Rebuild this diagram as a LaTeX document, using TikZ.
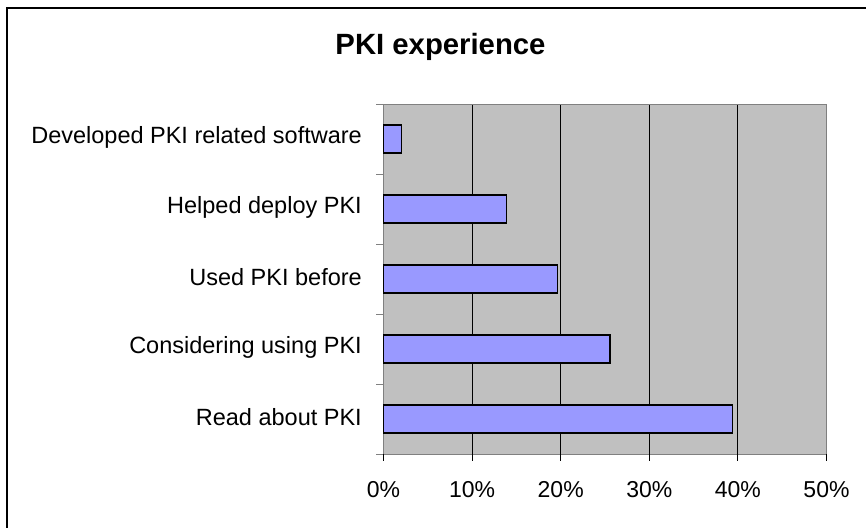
\documentclass[tikz,border=0pt]{standalone}
\usepackage{fontspec}
\setmainfont{Liberation Sans}
\usepackage{tikz}

\definecolor{plotgray}{HTML}{C0C0C0}
\definecolor{barblue}{HTML}{9999FF}
\definecolor{axisgray}{HTML}{808080}

\tikzset{
	catlabel/.style={anchor=east, inner sep=0pt, font=\fontsize{23.5}{25}\selectfont},
	ticklabel/.style={anchor=base, inner sep=0pt, font=\fontsize{23}{25}\selectfont},
	bar/.style={draw=black, line width=1.3pt, fill=barblue},
}

\begin{document}
\begin{tikzpicture}[x=1pt, y=-1pt]
	
	\useasboundingbox (0,0) rectangle (866,527);
	\draw[line width=1.3pt] (7,560) -- (7,8) -- (900,8);
	
	\node[anchor=base, inner sep=0pt, font=\bfseries\fontsize{29.3}{31}\selectfont] (title) at (440.5,54.3) {PKI experience};
	
	% plot area
	\fill[plotgray] (383.5,104) rectangle (826.5,454);
	\foreach \p in {1,...,4}
		\draw[black, line width=0.9pt] (383.5+88.6*\p,104) -- (383.5+88.6*\p,454);
	\draw[axisgray, line width=1pt] (383.5,104) rectangle (826.5,454);
	
	% ticks
	\foreach \k in {0,...,5}
		\draw[axisgray, line width=1pt] (376,104+70*\k) -- (383.5,104+70*\k);
	\foreach \p in {0,...,5}
		\draw[black, line width=0.9pt] (383.5+88.6*\p,454) -- (383.5+88.6*\p,461);
	
	% bars
	\draw[bar] (383.5,125) rectangle (401.7,153);
	\draw[bar] (383.5,195) rectangle (506.7,223);
	\draw[bar] (383.5,265) rectangle (557.3,293);
	\draw[bar] (383.5,335) rectangle (610,363);
	\draw[bar] (383.5,405) rectangle (732.3,433);
	
	\node[catlabel] (dev) at (362,137) {Developed PKI related software};
	\node[catlabel] (help) at (362,207) {Helped deploy PKI};
	\node[catlabel] (used) at (362,277) {Used PKI before};
	\node[catlabel] (cons) at (362,347) {Considering using PKI};
	\node[catlabel] (read) at (362,417) {Read about PKI};
	
	\node[ticklabel] (t0) at (383.5,497.3) {0\%};
	\node[ticklabel] (t10) at (472.1,497.3) {10\%};
	\node[ticklabel] (t20) at (560.7,497.3) {20\%};
	\node[ticklabel] (t30) at (649.3,497.3) {30\%};
	\node[ticklabel] (t40) at (737.9,497.3) {40\%};
	\node[ticklabel] (t50) at (826.5,497.3) {50\%};
	
\end{tikzpicture}
\end{document}
